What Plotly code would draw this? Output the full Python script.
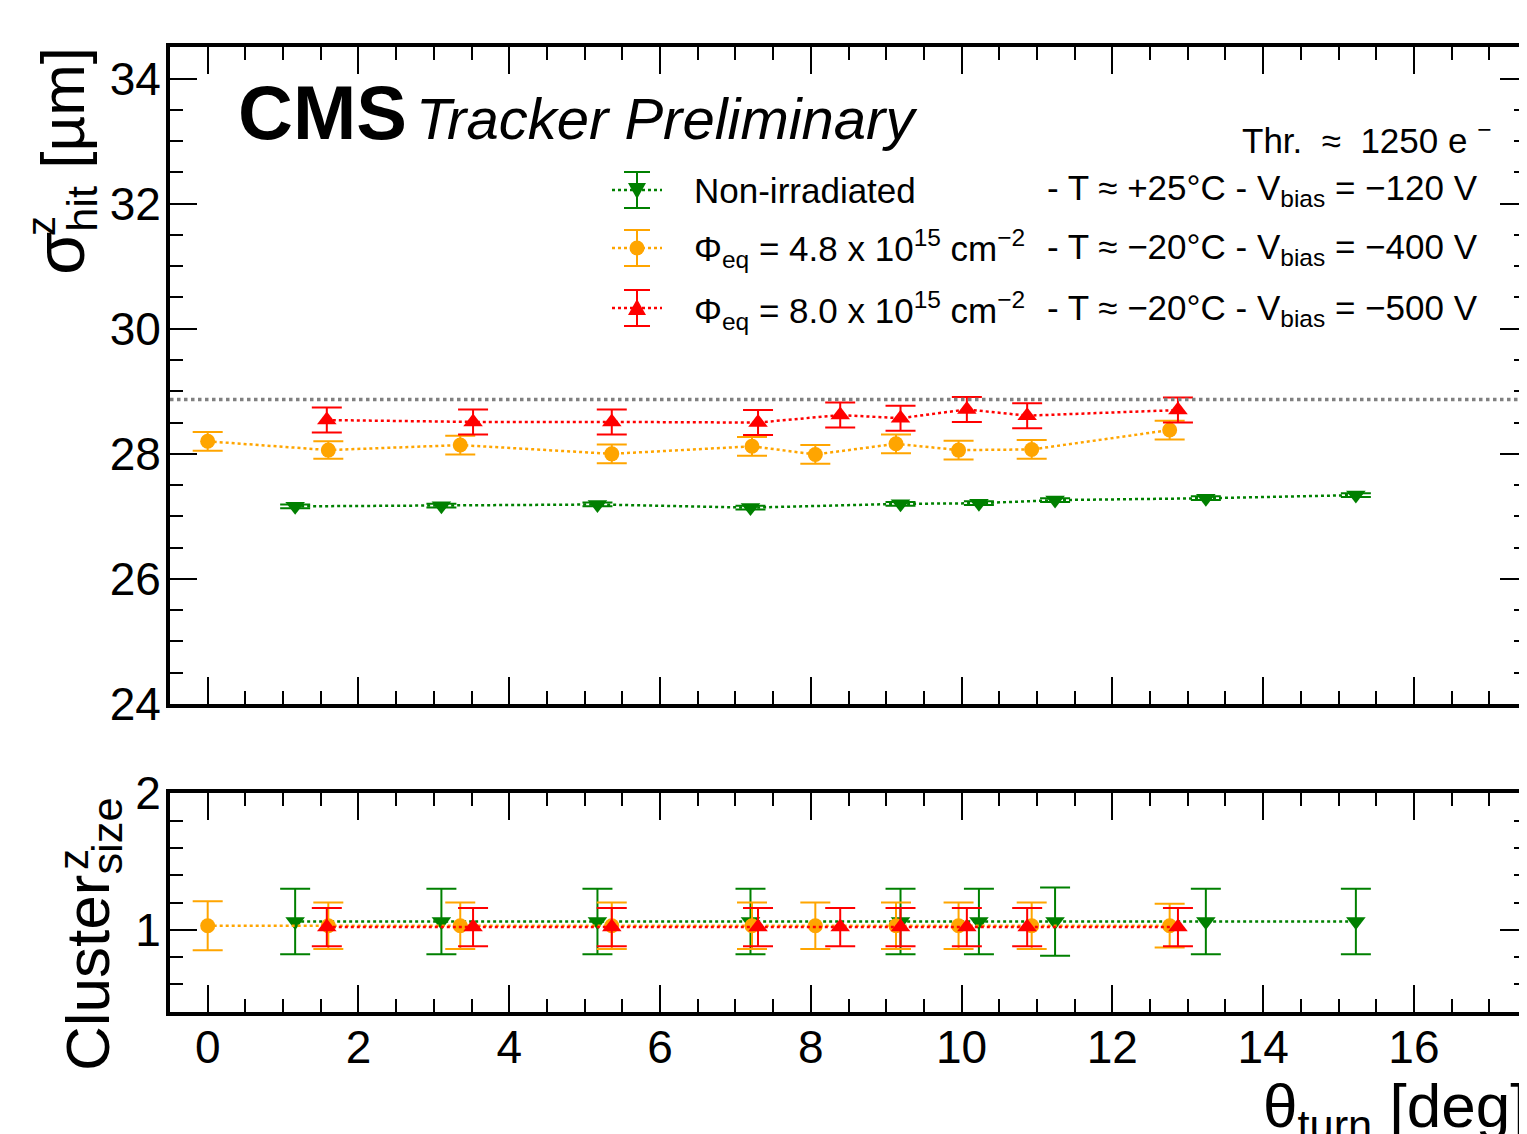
import plotly.graph_objects as go

W, H = 1527, 1134
OFF = 8  # default body margin of the page around the plot div

# ---------------- data ----------------
theta_nonirr = [1.16, 3.10, 5.17, 7.20, 9.19, 10.23, 11.24, 13.24, 15.23]
sigma_nonirr = [27.16, 27.17, 27.19, 27.14, 27.20, 27.21, 27.26, 27.29, 27.34]
sigma_nonirr_err = [0.03, 0.03, 0.03, 0.03, 0.03, 0.03, 0.03, 0.03, 0.03]
cls_nonirr = [1.06, 1.06, 1.06, 1.06, 1.06, 1.06, 1.06, 1.06, 1.06]
cls_nonirr_err = [0.24, 0.24, 0.24, 0.24, 0.24, 0.24, 0.25, 0.24, 0.24]

theta_48 = [0.00, 1.60, 3.35, 5.36, 7.22, 8.06, 9.13, 9.96, 10.93, 12.76]
sigma_48 = [28.20, 28.06, 28.14, 28.00, 28.12, 27.99, 28.16, 28.06, 28.07, 28.38]
sigma_48_err = [0.15, 0.14, 0.15, 0.15, 0.15, 0.15, 0.15, 0.15, 0.15, 0.15]
cls_48 = [1.03, 1.03, 1.03, 1.03, 1.03, 1.03, 1.03, 1.03, 1.03, 1.03]
cls_48_err = [0.18, 0.17, 0.17, 0.17, 0.17, 0.17, 0.17, 0.17, 0.17, 0.16]

theta_80 = [1.58, 3.52, 5.36, 7.30, 8.39, 9.19, 10.07, 10.87, 12.87]
sigma_80 = [28.54, 28.51, 28.51, 28.50, 28.62, 28.57, 28.71, 28.61, 28.70]
sigma_80_err = [0.20, 0.20, 0.20, 0.20, 0.20, 0.20, 0.20, 0.20, 0.20]
cls_80 = [1.02, 1.02, 1.02, 1.02, 1.02, 1.02, 1.02, 1.02, 1.02]
cls_80_err = [0.14, 0.14, 0.14, 0.14, 0.14, 0.14, 0.14, 0.14, 0.14]

binary_resolution = 28.87  # pitch / sqrt(12) reference line

series = [
    dict(name="Non-irradiated", x=theta_nonirr, s=sigma_nonirr, se=sigma_nonirr_err,
         c=cls_nonirr, ce=cls_nonirr_err, color="#008000", symbol="triangle-down", size=17),
    dict(name="4.8e15", x=theta_48, s=sigma_48, se=sigma_48_err,
         c=cls_48, ce=cls_48_err, color="#FFA500", symbol="circle", size=15),
    dict(name="8.0e15", x=theta_80, s=sigma_80, se=sigma_80_err,
         c=cls_80, ce=cls_80_err, color="#FF0000", symbol="triangle-up", size=17),
]

FONT = "Liberation Sans, Arial, Helvetica, sans-serif"


def px(x):
    return (x - OFF) / W


def py(y):
    return 1 - (y - OFF) / H


fig = go.Figure()

for s in series:
    fig.add_trace(go.Scatter(
        x=s["x"], y=s["s"], xaxis="x", yaxis="y", mode="lines+markers",
        line=dict(color=s["color"], width=2.5, dash="dot"),
        marker=dict(color=s["color"], symbol=s["symbol"], size=s["size"]),
        error_y=dict(type="data", array=s["se"], color=s["color"], thickness=2, width=15),
        showlegend=False))
    fig.add_trace(go.Scatter(
        x=s["x"], y=s["c"], xaxis="x2", yaxis="y2", mode="lines+markers",
        line=dict(color=s["color"], width=2.5, dash="dot"),
        marker=dict(color=s["color"], symbol=s["symbol"], size=s["size"]),
        error_y=dict(type="data", array=s["ce"], color=s["color"], thickness=2, width=15),
        showlegend=False))

axis_common = dict(
    ticks="inside", tickwidth=2, tickcolor="black", showline=True, linewidth=4,
    linecolor="black", mirror="allticks", showgrid=False, zeroline=False,
    automargin=False,
    tickfont=dict(family=FONT, size=46, color="black"),
)

xcommon = dict(axis_common, range=[-0.5, 17.5], dtick=2, tick0=0, ticklen=27,
               domain=[px(170), px(1527)],
               minor=dict(dtick=0.5, tick0=0, ticks="inside", ticklen=13, tickwidth=2,
                          tickcolor="black", showgrid=False))

fig.update_layout(
    width=W, height=H,
    margin=dict(l=0, r=0, t=0, b=0, pad=0, autoexpand=False),
    paper_bgcolor="white", plot_bgcolor="white",
    font=dict(family=FONT, color="black"),
    xaxis=dict(xcommon, anchor="y", showticklabels=False),
    xaxis2=dict(xcommon, anchor="y2", matches="x", showticklabels=True,
                ticklabelstandoff=-8),
    yaxis=dict(axis_common, anchor="x", range=[24, 34.5], dtick=2, tick0=24, ticklen=27,
               domain=[py(704), py(47.3)], ticklabelstandoff=-4,
               minor=dict(dtick=0.5, tick0=24, ticks="inside", ticklen=13, tickwidth=2,
                          tickcolor="black", showgrid=False)),
    yaxis2=dict(axis_common, anchor="x2", range=[0.4, 2.0001], dtick=1, tick0=0, ticklen=27,
                domain=[py(1011.7), py(793.3)], ticklabelstandoff=-4,
                minor=dict(dtick=0.2, tick0=0, ticks="inside", ticklen=13, tickwidth=2,
                           tickcolor="black", showgrid=False)),
    showlegend=False,
)

# reference line at binary resolution
fig.add_shape(type="line", xref="x domain", yref="y", x0=0, x1=1,
              y0=binary_resolution, y1=binary_resolution,
              line=dict(color="#808080", width=3.5, dash="dot"))


def add_text(text, x, y, size, xanchor="left", yanchor="middle", angle=0, **kw):
    fig.add_annotation(text=text, x=px(x), y=py(y), xref="paper", yref="paper",
                       showarrow=False, xanchor=xanchor, yanchor=yanchor, textangle=angle,
                       font=dict(family=FONT, size=size, color="black"), **kw)


# CMS label
add_text("<b>CMS</b>", 236, 112, 76)
add_text("<i>Tracker Preliminary</i>", 414, 118, 58)
add_text("Thr.  ≈  1250 e <sup>−</sup>", 1494, 138, 35, xanchor="right")

# legend rows
rows = [
    (190, "Non-irradiated", "- T ≈ +25°C - V<sub>bias</sub> = −120 V"),
    (249, "Φ<sub>eq</sub> = 4.8 x 10<sup>15</sup> cm<sup>−2</sup>",
     "- T ≈ −20°C - V<sub>bias</sub> = −400 V"),
    (310, "Φ<sub>eq</sub> = 8.0 x 10<sup>15</sup> cm<sup>−2</sup>",
     "- T ≈ −20°C - V<sub>bias</sub> = −500 V"),
]
key_y = [190, 248, 308]
for (ty, left, right), ky, s in zip(rows, key_y, series):
    add_text(left, 692, ty, 35)
    add_text(right, 1480, ty, 35, xanchor="right")
    col = s["color"]
    # dotted line
    fig.add_shape(type="line", xref="paper", yref="paper", x0=px(612), x1=px(662),
                  y0=py(ky), y1=py(ky), line=dict(color=col, width=2.5, dash="dot"))
    # error bar
    fig.add_shape(type="line", xref="paper", yref="paper", x0=px(637), x1=px(637),
                  y0=py(ky - 18), y1=py(ky + 18), line=dict(color=col, width=2))
    for cy in (ky - 18, ky + 18):
        fig.add_shape(type="line", xref="paper", yref="paper", x0=px(624), x1=px(650),
                      y0=py(cy), y1=py(cy), line=dict(color=col, width=2))
    # marker
    if s["symbol"] == "circle":
        fig.add_shape(type="circle", xref="paper", yref="paper",
                      x0=px(637 - 7.5), x1=px(637 + 7.5), y0=py(ky - 7.5), y1=py(ky + 7.5),
                      fillcolor=col, line=dict(color=col, width=0))
    elif s["symbol"] == "triangle-down":
        path = f"M {px(628)} {py(ky - 7)} L {px(646)} {py(ky - 7)} L {px(637)} {py(ky + 9)} Z"
        fig.add_shape(type="path", xref="paper", yref="paper", path=path,
                      fillcolor=col, line=dict(color=col, width=0))
    else:
        path = f"M {px(628)} {py(ky + 7)} L {px(646)} {py(ky + 7)} L {px(637)} {py(ky - 9)} Z"
        fig.add_shape(type="path", xref="paper", yref="paper", path=path,
                      fillcolor=col, line=dict(color=col, width=0))

# axis titles
add_text('<span style="font-size:70px">σ</span><sub>hit</sub> [µm]', 64, 45, 62,
         xanchor="center", yanchor="top", angle=-90)
add_text("z", 41, 226, 40, xanchor="center", yanchor="middle", angle=-90)
add_text("Cluster<sub>size</sub>", 92, 795, 62, xanchor="center", yanchor="top", angle=-90)
add_text("z", 73, 860, 42, xanchor="center", yanchor="middle", angle=-90)
add_text("θ<sub>turn</sub> [deg]", 1529, 1110, 62, xanchor="right", yanchor="middle")

fig.write_html("out.html")
